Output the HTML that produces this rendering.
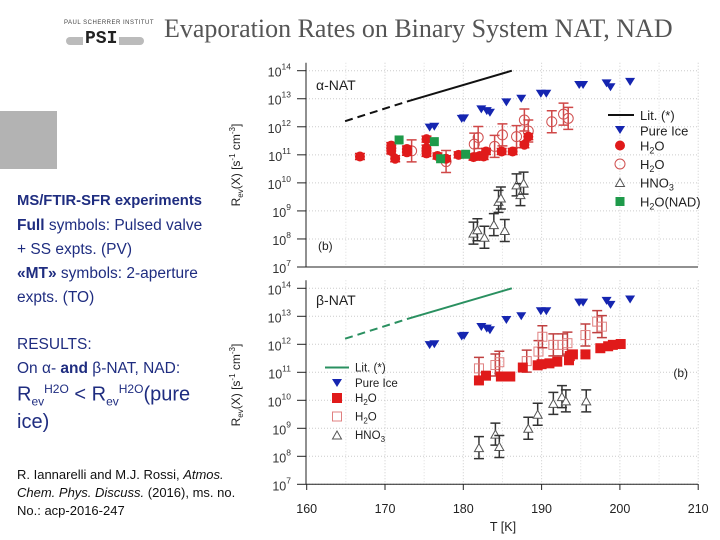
<!DOCTYPE html>
<html><head><meta charset="utf-8">
<style>
body{margin:0;background:#fff;width:720px;height:540px;overflow:hidden;position:relative;font-family:"Liberation Sans",sans-serif}
.t{position:absolute;white-space:nowrap}
.lt{color:#1f2d80;font-size:15.5px;left:17px}
svg{position:absolute;left:0;top:0}
</style></head><body>
<div class="t" style="left:64px;top:20px;width:80px;height:32px">
 <div style="position:absolute;left:0;top:0;font-size:6px;color:#444;letter-spacing:0.5px">PAUL SCHERRER INSTITUT</div>
 <div style="position:absolute;left:2px;top:17px;width:78px;height:8px;background:#bbb;border-radius:4px"></div>
 <div style="position:absolute;left:19px;top:10px;font:bold 18px 'Liberation Mono',monospace;color:#222;background:#fff;line-height:18px;padding:0 2px">PSI</div>
</div>
<div class="t" style="left:164px;top:14px;font:26px 'Liberation Serif',serif;color:#555">Evaporation Rates on Binary System NAT, NAD</div>
<div style="position:absolute;left:0;top:111px;width:57px;height:58px;background:#b3b3b3"></div>
<div class="t lt" style="top:193px;font-weight:bold;font-size:14.8px">MS/FTIR-SFR experiments</div>
<div class="t lt" style="top:217px"><b>Full</b> symbols: Pulsed valve</div>
<div class="t lt" style="top:241px">+ SS expts. (PV)</div>
<div class="t lt" style="top:265px"><b>«MT»</b> symbols: 2-aperture</div>
<div class="t lt" style="top:289px">expts. (TO)</div>
<div class="t lt" style="top:336px">RESULTS:</div>
<div class="t lt" style="top:360px">On α- <b>and</b> β-NAT, NAD:</div>
<div class="t lt" style="top:382px;font-size:20px">R<sub style="font-size:12px">ev</sub><sup style="font-size:12px">H2O</sup> &lt; R<sub style="font-size:12px">ev</sub><sup style="font-size:12px">H2O</sup>(pure</div>
<div class="t lt" style="top:411px;font-size:20px">ice)</div>
<div class="t" style="left:17px;top:466px;font-size:13px;color:#111;line-height:18px">R. Iannarelli and M.J. Rossi, <i>Atmos.</i><br><i>Chem. Phys. Discuss.</i> (2016), ms. no.<br>No.: acp-2016-247</div>
<svg id="chart" width="720" height="540"></svg>
<script>
// shared
const xTicks=[160,170,180,190,200,210];
const iceT=[175.7,176.3,179.8,180.1,182.3,183.0,183.4,185.5,187.4,189.9,190.6,194.8,195.3,198.3,198.8,201.3];
const iceV=[11.97,12.0,12.28,12.3,12.62,12.56,12.5,12.87,13.0,13.18,13.18,13.49,13.49,13.55,13.41,13.6];
const litDashT=[164.9,172.8], litDashV=[12.2,12.9];
const litSolidT=[172.8,186.2], litSolidV=[12.9,14.0];
// alpha-NAT
const aFillT=[166.8,170.8,170.8,171.3,172.8,172.8,175.3,175.3,175.3,176.7,177.8,179.4,181.3,182.1,182.6,182.9,184.9,186.3,187.8,188.3];
const aFillV=[10.94,11.33,11.14,10.86,11.21,11.09,11.56,11.24,11.05,10.96,10.86,11.0,10.92,10.96,10.94,11.12,11.12,11.12,11.36,11.65];
const aOpenT=[173.4,177.8,181.4,181.9,184.0,185.0,186.8,187.8,188.3,191.3,192.8,193.4];
const aOpenV=[11.14,10.76,11.38,11.62,11.3,11.71,11.65,12.24,11.85,12.18,12.45,12.3];
const aNadT=[171.8,176.3,177.1,180.3];
const aNadV=[11.53,11.47,10.86,11.02];
const aHno3T=[181.3,181.8,182.7,183.9,185.3,184.5,184.8,186.8,187.3,187.7];
const aHno3V=[8.21,8.33,8.06,8.51,8.3,9.34,9.46,9.93,9.58,9.99];
// beta-NAT
const bFillT=[182.0,182.9,184.8,186.0,187.6,189.5,190.0,191.0,192.0,193.5,193.6,194.0,195.6,197.5,198.5,199.1,200.1];
const bFillV=[10.71,10.88,10.85,10.85,11.17,11.25,11.29,11.32,11.38,11.43,11.58,11.64,11.64,11.86,11.93,11.98,12.01];
const bOpenT=[182.0,184.1,184.6,188.1,189.6,190.1,191.5,192.7,193.3,195.6,197.1,197.7];
const bOpenV=[11.14,11.26,11.36,11.4,11.74,12.27,11.98,11.98,12.04,12.33,12.81,12.63];
const bHno3T=[182.0,184.1,184.6,188.3,189.5,191.5,192.6,193.1,195.7];
const bHno3V=[8.31,8.79,8.35,9.0,9.5,9.89,10.13,9.98,9.98];

const NS='http://www.w3.org/2000/svg';
const svg=document.getElementById('chart');
function mk(tag,at,parent){const e=document.createElementNS(NS,tag);for(const k in at)e.setAttribute(k,at[k]);(parent||svg).appendChild(e);return e;}
const X=t=>306.7+(t-160)*7.83;

function panel(pfx,y14,y7,g){
  const Y=v=>y7-(v-7)*(y7-y14)/7;
  const gg=mk('g',{});
  
  
  for(const t of xTicks){ if(t>160) mk('line',{x1:X(t),x2:X(t),y1:y14-8,y2:y7,stroke:'#ccc','stroke-dasharray':'1 2'},gg);
    if(t%10==0&&t<210) mk('line',{x1:X(t+5),x2:X(t+5),y1:y14-8,y2:y7,stroke:'#ddd','stroke-dasharray':'1 2'},gg);}
  for(let d=7;d<=14;d++){ mk('line',{x1:306,x2:698,y1:Y(d),y2:Y(d),stroke:'#ccc','stroke-dasharray':'1 2'},gg);
    mk('line',{x1:297,x2:306,y1:Y(d),y2:Y(d),stroke:'#222'},gg);
    const tx=mk('text',{x:291,y:Y(d)+6,'text-anchor':'end','font-size':12.5,fill:'#333'},gg);
    
    
    tx.textContent='10';const s=mk('tspan',{dy:-7,'font-size':8.5},tx);s.textContent=d;}
  mk('line',{x1:306,x2:306,y1:y14-8,y2:y7,stroke:'#222'},gg);
  mk('line',{x1:306,x2:698,y1:y7,y2:y7,stroke:'#222'},gg);
  const lc=g?'#2a9060':'#111';
  mk('line',{x1:X(litDashT[0]),y1:Y(litDashV[0]),x2:X(litDashT[1]),y2:Y(litDashV[1]),stroke:lc,'stroke-width':2,'stroke-dasharray':'8 5'},gg);
  mk('line',{x1:X(litSolidT[0]),y1:Y(litSolidV[0]),x2:X(litSolidT[1]),y2:Y(litSolidV[1]),stroke:lc,'stroke-width':2},gg);
  return {Y,gg};
}
function err(gg,x,y,h,c){mk('path',{d:`M${x},${y-h}V${y+h}M${x-5},${y-h}h10M${x-5},${y+h}h10`,stroke:c,'stroke-width':1.5,fill:'none'},gg);}
function tri(gg,x,y,c,down,name){const e=down?mk('path',{d:`M${x-5},${y-4}h10l-5,8z`,fill:c},gg):mk('path',{d:`M${x-4.5},${y+4}h9l-4.5,-8z`,fill:'#fff',stroke:c,'stroke-width':1},gg);
  
  }
function dots(p,T,V,kind,name){
  for(let i=0;i<T.length;i++){const x=X(T[i]),y=p.Y(V[i]);let e;
    if(kind=='ice'){tri(p.gg,x,y,'#1525b0',true,name);continue;}
    if(kind=='hno3'){err(p.gg,x,y,11,'#333');tri(p.gg,x,y,'#555',false,name);continue;}
    if(kind=='fc'){err(p.gg,x,y,3,'#d42020');e=mk('circle',{cx:x,cy:y,r:5,fill:'#e01a1a'},p.gg);}
    if(kind=='oc'){err(p.gg,x,y,11,'#d04848');e=mk('circle',{cx:x,cy:y,r:5,fill:'none',stroke:'#d05050'},p.gg);}
    if(kind=='nad'){e=mk('rect',{x:x-4.5,y:y-4.5,width:9,height:9,fill:'#1e9a4a'},p.gg);}
    if(kind=='fs'){e=mk('rect',{x:x-5,y:y-5,width:10,height:10,fill:'#e01a1a'},p.gg);}
    if(kind=='os'){err(p.gg,x,y,11,'#c04040');e=mk('rect',{x:x-4.5,y:y-4.5,width:9,height:9,fill:'none',stroke:'#e08080'},p.gg);}
    
    }
}
function txt(x,y,s,fs,name,anchor){const t=mk('text',{x:x,y:y,'font-size':fs,fill:'#222','text-anchor':anchor||'start'});
  
  
  t.innerHTML=s;return t;}

// top
const A=panel('alpha-nat',70.7,267,false);
dots(A,aOpenT,aOpenV,'oc','h2o-open-point');
dots(A,aFillT,aFillV,'fc','h2o-point');
dots(A,aNadT,aNadV,'nad','nad-point');
dots(A,aHno3T,aHno3V,'hno3','hno3-point');
dots(A,iceT,iceV,'ice','pure-ice-point');
txt(316,90,'α-NAT',14,'alpha-nat-title');
txt(318,250,'(b)',12,'panel-label');
// legend top
mk('line',{x1:608,x2:634,y1:115,y2:115,stroke:'#111','stroke-width':2});
tri(svg,620,130,'#1525b0',true,'legend-ice-marker');
mk('circle',{cx:620,cy:145.5,r:5,fill:'#e01a1a'});
mk('circle',{cx:620,cy:164,r:5,fill:'none',stroke:'#d05050'});
tri(svg,620,182.5,'#555',false,'legend-hno3-marker');
mk('rect',{x:615.5,y:197,width:9,height:9,fill:'#1e9a4a'});
[['Lit. (*)',115],['Pure Ice',130.5],['H<tspan font-size="9" dy="3">2</tspan><tspan dy="-3">O</tspan>',145.5],['H<tspan font-size="9" dy="3">2</tspan><tspan dy="-3">O</tspan>',164],['HNO<tspan font-size="9" dy="3">3</tspan>',182.5],['H<tspan font-size="9" dy="3">2</tspan><tspan dy="-3">O(NAD)</tspan>',201.5]].forEach(l=>txt(640,l[1]+5,l[0],13,'legend-entry'));
const ya=txt(0,0,'R<tspan font-size="8" dy="3">ev</tspan><tspan dy="-3">(X) [s</tspan><tspan font-size="8" dy="-5">-1</tspan><tspan dy="5"> cm</tspan><tspan font-size="8" dy="-5">-3</tspan><tspan dy="5">]</tspan>',12,'y-axis-title','middle');
ya.setAttribute('transform','translate(240,165) rotate(-90)');

// bottom
const B=panel('beta-nat',288.3,484.3,true);
dots(B,bOpenT,bOpenV,'os','h2o-open-point');
dots(B,bFillT,bFillV,'fs','h2o-point');
dots(B,bHno3T,bHno3V,'hno3','hno3-point');
dots(B,iceT,iceV,'ice','pure-ice-point');
txt(316,305,'β-NAT',14,'beta-nat-title');
txt(688,377,'(b)',12,'panel-label','end');
mk('line',{x1:325,x2:349,y1:367.5,y2:367.5,stroke:'#2a9060','stroke-width':2});
tri(svg,337,383,'#1525b0',true,'legend-ice-marker');
mk('rect',{x:332,y:393,width:10,height:10,fill:'#e01a1a'});
mk('rect',{x:332.5,y:412,width:9,height:9,fill:'none',stroke:'#e08080'});
tri(svg,337,435,'#555',false,'legend-hno3-marker');
[['Lit. (*)',367.5],['Pure Ice',383],['H<tspan font-size="8" dy="3">2</tspan><tspan dy="-3">O</tspan>',398],['H<tspan font-size="8" dy="3">2</tspan><tspan dy="-3">O</tspan>',416.5],['HNO<tspan font-size="8" dy="3">3</tspan>',435]].forEach(l=>txt(355,l[1]+4,l[0],11.5,'legend-entry'));
const yb=txt(0,0,'R<tspan font-size="8" dy="3">ev</tspan><tspan dy="-3">(X) [s</tspan><tspan font-size="8" dy="-5">-1</tspan><tspan dy="5"> cm</tspan><tspan font-size="8" dy="-5">-3</tspan><tspan dy="5">]</tspan>',12,'y-axis-title','middle');
yb.setAttribute('transform','translate(240,385) rotate(-90)');
xTicks.forEach(t=>{mk('line',{x1:X(t),x2:X(t),y1:484,y2:490,stroke:'#222'});txt(X(t),513,t,12.5,'x-tick-label','middle');});
txt(503,531,'T [K]',12.5,'x-axis-title','middle');
</script>
</body></html>
